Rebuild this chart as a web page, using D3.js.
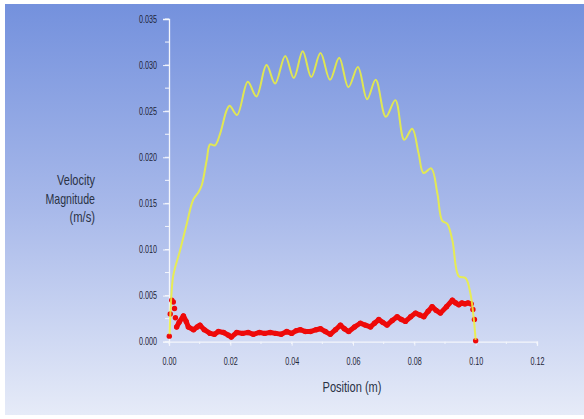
<!DOCTYPE html>
<html>
<head>
<script src="https://d3js.org/d3.v7.min.js"></script>
<style>
body { margin: 0; background: #fff; }
svg { display: block; }
.tick text { font-family: "Liberation Sans", Arial, sans-serif; font-size: 10px; fill: #1e2538; }
.title { font-family: "Liberation Sans", Arial, sans-serif; font-size: 15px; fill: #2a3245; }
</style>
</head>
<body>
<div id="canvas"></div>
<script>
var width = 584, height = 419;

// x ticks and y ticks (major)
var xTicks = [0, 0.02, 0.04, 0.06, 0.08, 0.10, 0.12];
var yTicks = [0, 0.005, 0.010, 0.015, 0.020, 0.025, 0.030, 0.035];

// yellow curve: [position, velocity]
var yellowData = [
  [0.0002,0.0008],[0.0006,0.0040],[0.0014,0.0072],[0.0036,0.0099],[0.0058,0.0128],
  [0.0079,0.0154],[0.0096,0.0162],[0.0107,0.0170],[0.0123,0.0197],[0.0134,0.0214],
  [0.0150,0.0213],[0.0167,0.0226],[0.0188,0.0251],[0.0198,0.0256],[0.0222,0.0246],
  [0.0257,0.0282],[0.0285,0.0266],[0.0318,0.0300],[0.0346,0.0280],[0.0379,0.0310],
  [0.0407,0.0286],[0.0436,0.0315],[0.0464,0.0287],[0.0494,0.0313],[0.0525,0.0284],
  [0.0555,0.0308],[0.0585,0.0276],[0.0616,0.0298],[0.0646,0.0263],[0.0674,0.0284],
  [0.0707,0.0244],[0.0738,0.0262],[0.0767,0.0219],[0.0793,0.0231],[0.0814,0.0204],
  [0.0830,0.0183],[0.0855,0.0188],[0.0875,0.0161],[0.0891,0.0131],[0.0907,0.0128],
  [0.0924,0.0110],[0.0945,0.0071],[0.0967,0.0069],[0.0983,0.0052],[0.0994,0.0024],
  [0.1000,0.0002]
];

// red series, continuous part
var redData = [
  [0.0025,0.0016],[0.0033,0.0021],[0.0047,0.0028],[0.0056,0.0022],[0.0063,0.0016],
  [0.0080,0.0013],[0.0092,0.0016],[0.0101,0.0018],[0.0115,0.0013],[0.0134,0.0009],
  [0.0148,0.0008],[0.0161,0.0011],[0.0178,0.0010],[0.0194,0.0007],[0.0203,0.0005],
  [0.0221,0.0010],[0.0240,0.0009],[0.0258,0.0010],[0.0275,0.0008],[0.0295,0.0010],
  [0.0312,0.0009],[0.0330,0.0010],[0.0348,0.0009],[0.0366,0.0008],[0.0384,0.0011],
  [0.0400,0.0009],[0.0415,0.0012],[0.0428,0.0013],[0.0445,0.0011],[0.0461,0.0011],
  [0.0480,0.0013],[0.0494,0.0014],[0.0510,0.0011],[0.0526,0.0008],[0.0543,0.0013],
  [0.0559,0.0018],[0.0572,0.0014],[0.0586,0.0011],[0.0605,0.0016],[0.0624,0.0020],
  [0.0640,0.0018],[0.0657,0.0016],[0.0670,0.0020],[0.0684,0.0024],[0.0697,0.0021],
  [0.0711,0.0018],[0.0728,0.0023],[0.0744,0.0027],[0.0758,0.0024],[0.0771,0.0022],
  [0.0788,0.0027],[0.0804,0.0031],[0.0818,0.0029],[0.0831,0.0027],[0.0845,0.0033],
  [0.0858,0.0038],[0.0871,0.0034],[0.0885,0.0031],[0.0905,0.0038],[0.0924,0.0045],
  [0.0935,0.0042],[0.0945,0.0040],[0.0955,0.0042],[0.0965,0.0041],[0.0975,0.0042],
  [0.0985,0.0041]
];

// red isolated markers near the walls
var redDots = [
  [0.0001,0.0006],[0.0004,0.0030],[0.0009,0.0045],[0.0014,0.0043],[0.0018,0.0036],
  [0.0021,0.0026],[0.0991,0.0035],[0.0996,0.0024],[0.1000,0.0001]
];

var svg = d3.select("#canvas").append("svg")
    .attr("width", width).attr("height", height);

var grad = svg.append("defs").append("linearGradient")
    .attr("id", "bg").attr("x1", 0).attr("y1", 0).attr("x2", 0).attr("y2", 1);
grad.append("stop").attr("offset", 0).attr("stop-color", "#7491dd");
grad.append("stop").attr("offset", 0.5).attr("stop-color", "#a8b9ea");
grad.append("stop").attr("offset", 1).attr("stop-color", "#e6ebf8");

svg.append("rect").attr("x", 5).attr("y", 4).attr("width", width - 5).attr("height", 411)
    .attr("fill", "url(#bg)");

var x = d3.scaleLinear().domain([0, 0.12]).range([169, 537]);
var y = d3.scaleLinear().domain([0, 0.035]).range([341.7, 19]);

// minor ticks
svg.append("g").selectAll("line").data(d3.range(0, 0.0351, 0.0025))
  .enter().append("line")
    .attr("x1", 165).attr("x2", 169)
    .attr("y1", function(d) { return y(d); }).attr("y2", function(d) { return y(d); })
    .attr("stroke", "#f4f6fc").attr("stroke-width", 1);
svg.append("g").selectAll("line").data(d3.range(0, 0.1201, 0.01))
  .enter().append("line")
    .attr("x1", function(d) { return x(d); }).attr("x2", function(d) { return x(d); })
    .attr("y1", 341.7).attr("y2", 344)
    .attr("stroke", "#f4f6fc").attr("stroke-width", 1);

var yAxis = d3.axisLeft(y).tickValues(yTicks).tickFormat(d3.format(".3f")).tickSize(6).tickPadding(6);
var gy = svg.append("g").attr("transform", "translate(169,0)").call(yAxis);
var xAxis = d3.axisBottom(x).tickValues(xTicks).tickFormat(d3.format(".2f")).tickSize(4).tickPadding(12);
var gx = svg.append("g").attr("transform", "translate(0,341.7)").call(xAxis);
[gx, gy].forEach(function(g) {
  g.select(".domain").attr("stroke", "#f4f6fc").attr("stroke-width", 1.3);
  g.selectAll(".tick line").attr("stroke", "#f4f6fc");
});
// narrow glyphs like the original
gy.selectAll(".tick text").attr("textLength", 18).attr("lengthAdjust", "spacingAndGlyphs");
gx.selectAll(".tick text").attr("textLength", 14).attr("lengthAdjust", "spacingAndGlyphs");

// red series
svg.append("path").datum(redData)
    .attr("fill", "none").attr("stroke", "#ee0a0a").attr("stroke-width", 5)
    .attr("stroke-linejoin", "round").attr("stroke-linecap", "round")
    .attr("d", d3.line().x(function(d) { return x(d[0]); }).y(function(d) { return y(d[1]); }));
svg.append("g").selectAll("circle").data(redData.concat(redDots))
  .enter().append("circle")
    .attr("cx", function(d) { return x(d[0]); })
    .attr("cy", function(d) { return y(d[1]); })
    .attr("r", 2.7).attr("fill", "#ee0a0a");

// yellow series
svg.append("path").datum(yellowData)
    .attr("fill", "none").attr("stroke", "#eef23a").attr("stroke-width", 2)
    .attr("stroke-opacity", 0.85)
    .attr("d", d3.line().curve(d3.curveCatmullRom.alpha(0.5))
        .x(function(d) { return x(d[0]); }).y(function(d) { return y(d[1]); }));

// titles
svg.append("text").attr("class", "title").attr("x", 352).attr("y", 392)
    .attr("text-anchor", "middle").attr("textLength", 59).attr("lengthAdjust", "spacingAndGlyphs")
    .text("Position (m)");
var yLines = [["Velocity", 38], ["Magnitude", 49.5], ["(m/s)", 25.5]];
yLines.forEach(function(s, i) {
  svg.append("text").attr("class", "title").attr("text-anchor", "end")
     .attr("x", 95).attr("y", 185 + i * 18.5)
     .attr("textLength", s[1]).attr("lengthAdjust", "spacingAndGlyphs").text(s[0]);
});
</script>
</body>
</html>
